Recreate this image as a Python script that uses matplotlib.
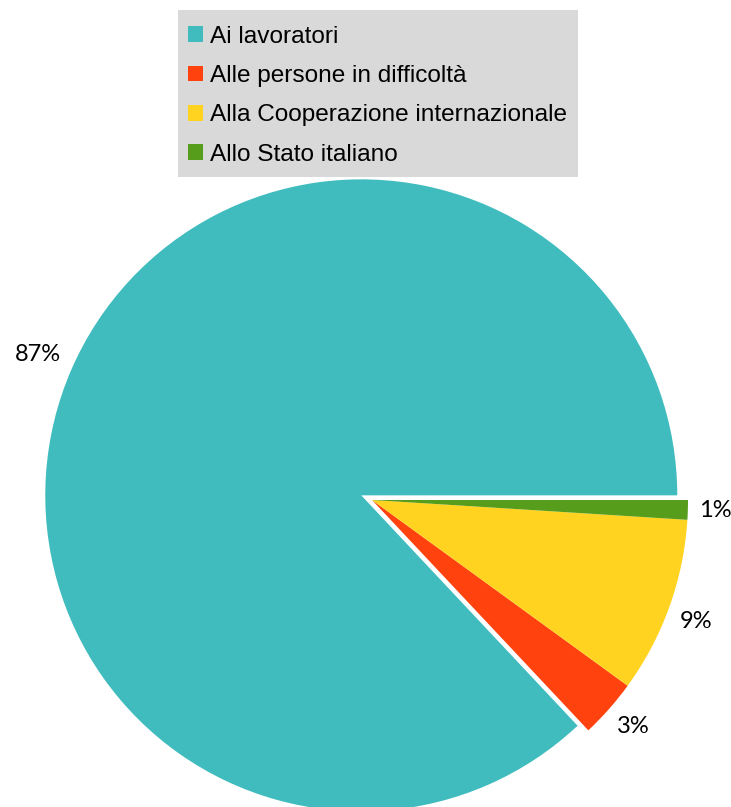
import matplotlib
matplotlib.use("Agg")
import numpy as np
import matplotlib.pyplot as plt
from matplotlib.patches import Patch, Rectangle

categories = ["Ai lavoratori", "Alle persone in difficoltà",
              "Alla Cooperazione internazionale", "Allo Stato italiano"]
values = [87, 3, 9, 1]
colors = ["#40BCBE", "#FF420E", "#FFD320", "#579D1C"]

W, H = 731, 807
fig = plt.figure(figsize=(W / 100, H / 100), dpi=100)
ax = fig.add_axes([0, 0, 1, 1])

R = 316.0
cx, cy = 372.0, 500.0  # apex of non-exploded slices (pixels, from top)

wedges, texts, autotexts = ax.pie(
    values, colors=colors, startangle=0, counterclock=True,
    explode=[0.037, 0, 0, 0], autopct=lambda p: f"{p:.0f}%",
    pctdistance=1.035, radius=1.0,
    wedgeprops=dict(linewidth=0),
    textprops=dict(fontsize=17, family="Lato", color="black"))

# anchor labels by their corner nearest the pie (outside labels)
for w, t in zip(wedges, autotexts):
    ang = np.deg2rad((w.theta1 + w.theta2) / 2)
    c, s = np.cos(ang), np.sin(ang)
    t.set_ha("left" if c > 0 else "right")
    if abs(s) < 0.2:
        t.set_va("center")
    else:
        t.set_va("bottom" if s > 0 else "top")

ax.set_aspect("auto")
ax.set_xlim(-cx / R, (W - cx) / R)
ax.set_ylim(-(H - cy) / R, cy / R)
ax.axis("off")

# legend background box
fig.patches.append(Rectangle((178 / W, 1 - 177 / H), 400 / W, 167 / H,
                             transform=fig.transFigure, facecolor="#D9D9D9",
                             edgecolor="none", zorder=0))

fs = 17.6
handles = [Patch(facecolor=c, edgecolor="none") for c in colors]
leg = fig.legend(handles, categories, loc="upper left",
                 bbox_to_anchor=(178 / W, 1 - 16 / H),
                 frameon=False,
                 prop=dict(family="Liberation Sans", size=fs),
                 handlelength=0.62, handleheight=0.6, handletextpad=0.29,
                 labelspacing=0.71, borderpad=0.4, borderaxespad=0)

fig.savefig("out.png", dpi=100)
